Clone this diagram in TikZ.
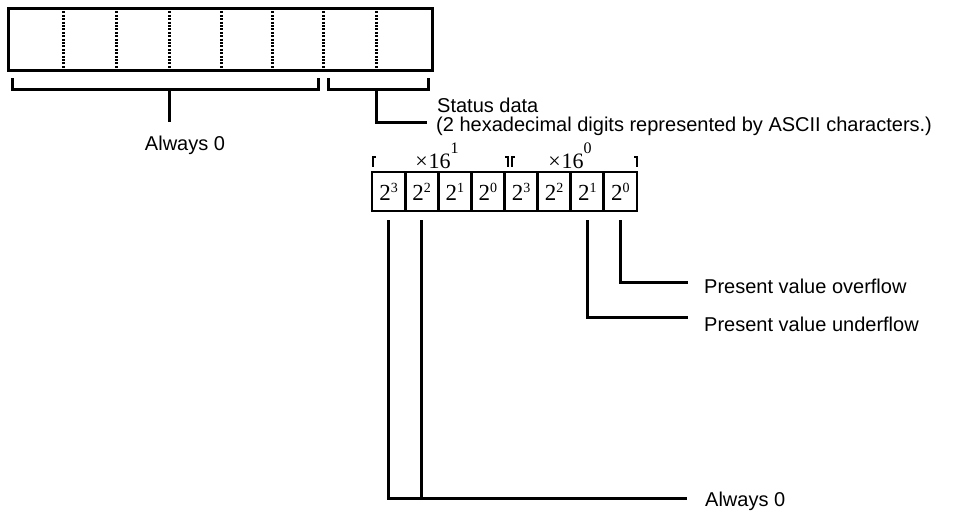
\documentclass[tikz,border=0pt]{standalone}
\usepackage{fontspec}
\setmainfont{Liberation Serif}
\setsansfont{Liberation Sans}
\newcommand{\pw}[1]{2\raisebox{8pt}{\fontsize{14}{14}\selectfont #1}}
\newcommand{\hx}[1]{\fontsize{22}{22}\selectfont\texttimes\hspace{1pt}16\raisebox{15pt}{\fontsize{16}{16}\selectfont #1}}
\begin{document}
\begin{tikzpicture}[x=1pt,y=-1pt,
  frame/.style={line width=3pt},
  sep/.style={line width=3pt,dash pattern=on 2pt off 1.4pt},
  lead/.style={line width=3pt},
  hook/.style={line width=2.6pt},
  bit/.style={draw,line width=2.8pt,minimum width=33.125pt,minimum height=39pt,inner sep=0pt,outer sep=0pt,font=\fontsize{23}{23}\selectfont},
  lbl/.style={inner sep=0pt,anchor=base west,font=\sffamily\fontsize{20}{19}\selectfont}]
\useasboundingbox (0,0) rectangle (969,512);
\draw[frame] (8,8) rectangle (432,70);
\draw[sep] (63,8) -- (63,70);
\draw[sep] (116,8) -- (116,70);
\draw[sep] (169,8) -- (169,70);
\draw[sep] (221,8) -- (221,70);
\draw[sep] (272,8) -- (272,70);
\draw[sep] (323,8) -- (323,70);
\draw[sep] (376,8) -- (376,70);
\draw[lead] (12,78) |- (318,89) -- (318,78);
\draw[lead] (328,78) |- (428,89) -- (428,78);
\coordinate (lb) at (169,89);
\coordinate (la) at (169,122);
\coordinate (rb) at (376,89);
\coordinate (sd) at (427,122);
\node[lbl,anchor=base] (z1) at (185,150) {Always 0};
\node[lbl] (st) at (437,112) {Status data};
\node[lbl] (hx) at (436,131) {(2 hexadecimal digits represented by ASCII characters.)};
\draw[lead] (lb) -- (la);
\draw[lead] (rb) |- (sd);
\node[bit] (c1) at (388.56,191.5) {\pw{3}};
\node[bit] (c2) at (421.69,191.5) {\pw{2}};
\node[bit] (c3) at (454.81,191.5) {\pw{1}};
\node[bit] (c4) at (487.94,191.5) {\pw{0}};
\node[bit] (c5) at (521.06,191.5) {\pw{3}};
\node[bit] (c6) at (554.19,191.5) {\pw{2}};
\node[bit] (c7) at (587.31,191.5) {\pw{1}};
\node[bit] (c8) at (620.44,191.5) {\pw{0}};
\draw[hook] (376,157) -- (373,157) -- (373,167);
\draw[hook] (505,157) -- (508,157) -- (508,167);
\draw[hook] (515,157) -- (512,157) -- (512,167);
\draw[hook] (634,157) -- (637,157) -- (637,167);
\node[inner sep=0pt,anchor=base] (x1) at (437,168) {\hx{1}};
\node[inner sep=0pt,anchor=base] (x0) at (570,168) {\hx{0}};
\coordinate (ov) at (688,282);
\coordinate (un) at (688,317);
\coordinate (al) at (687,498);
\node[lbl] (pov) at (704,293) {Present value overflow};
\node[lbl] (pun) at (704,331) {Present value underflow};
\node[lbl] (z2) at (705,506) {Always 0};
\draw[lead] ([yshift=-9pt]c8.south) |- (ov);
\draw[lead] ([yshift=-9pt]c7.south) |- (un);
\draw[lead] ([yshift=-9pt]c1.south) |- (al);
\draw[lead] ([yshift=-9pt]c2.south) -- (c2.south |- al);
\end{tikzpicture}
\end{document}
